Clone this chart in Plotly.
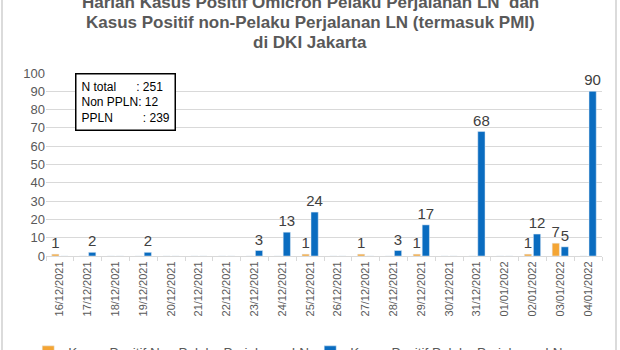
import plotly.graph_objects as go

# Daily Omicron cases in DKI Jakarta, 16 Dec 2021 - 4 Jan 2022
dates = ["16/12/2021", "17/12/2021", "18/12/2021", "19/12/2021", "20/12/2021",
         "21/12/2021", "22/12/2021", "23/12/2021", "24/12/2021", "25/12/2021",
         "26/12/2021", "27/12/2021", "28/12/2021", "29/12/2021", "30/12/2021",
         "31/12/2021", "01/01/2022", "02/01/2022", "03/01/2022", "04/01/2022"]
non_ppln = [1, 0, 0, 0, 0, 0, 0, 0, 0, 1, 0, 1, 0, 1, 0, 0, 0, 1, 7, 0]
ppln = [0, 2, 0, 2, 0, 0, 0, 3, 13, 24, 0, 0, 3, 17, 0, 68, 0, 12, 5, 90]

series_names = ["Kasus Positif Non Pelaku Perjalanan LN",
                "Kasus Positif Pelaku Perjalanan LN"]
title_lines = ["Harian Kasus Positif Omicron Pelaku Perjalanan LN  dan",
               "Kasus Positif non-Pelaku Perjalanan LN (termasuk PMI)",
               "di DKI Jakarta"]
summary_lines = ["N total\u00a0\u00a0\u00a0\u00a0\u00a0\u00a0: 251",
                 "Non PPLN: 12",
                 "PPLN\u00a0\u00a0\u00a0\u00a0\u00a0\u00a0\u00a0\u00a0\u00a0: 239"]

ORANGE = "#F4A534"
BLUE = "#0A6CC0"
GREY = "#595959"
FONT = "Liberation Sans, Arial, sans-serif"

# plot area in pixels: top 73, height 183
PLOT_TOP, PLOT_H = 73, 183


def labels(values):
    return [str(v) if v else "" for v in values]


def py(pixel_y):
    """Convert a pixel row to paper y."""
    return 1 + (PLOT_TOP - pixel_y) / PLOT_H


fig = go.Figure()
for vals, name, color in [(non_ppln, series_names[0], ORANGE),
                          (ppln, series_names[1], BLUE)]:
    fig.add_trace(go.Bar(
        x=dates, y=vals, name=name, marker_color=color,
        text=labels(vals), textposition="outside", cliponaxis=False,
        constraintext="none",
        textfont=dict(size=15, color="#404040", family=FONT),
    ))

fig.update_layout(
    width=620, height=350,
    margin=dict(l=46, r=18, t=PLOT_TOP, b=350 - PLOT_TOP - PLOT_H, autoexpand=False),
    paper_bgcolor="white", plot_bgcolor="white",
    barmode="group", bargap=0.35, bargroupgap=0.2,
    font=dict(family=FONT, color=GREY),
    showlegend=True,
    legend=dict(orientation="h", x=-0.032, xanchor="left", y=-0.525, yanchor="middle",
                font=dict(size=13.5, color=GREY), entrywidth=237,
                entrywidthmode="pixels", traceorder="normal"),
)

fig.update_yaxes(range=[0, 100], dtick=10, showgrid=True, gridcolor="#d9d9d9",
                 gridwidth=1, zeroline=False, showline=False, automargin=False,
                 tickfont=dict(size=13, color=GREY), ticks="", fixedrange=True)
fig.update_xaxes(type="category", tickangle=-90, tickfont=dict(size=11, color=GREY),
                 showline=True, linecolor="#d9d9d9", linewidth=1, automargin=False,
                 ticks="outside", tickson="boundaries", ticklen=4, tickcolor="#d9d9d9",
                 showgrid=False)

# Chart title, one annotation per line
for line, ypix in zip(title_lines, [2, 23, 42.5]):
    fig.add_annotation(
        text="<b>" + line + "</b>", xref="paper", yref="paper",
        x=(310 - 46) / 556, y=py(ypix), xanchor="center", yanchor="middle",
        showarrow=False, font=dict(size=17, color=GREY, family=FONT),
    )

# Summary box
fig.add_annotation(
    text="<br>".join(summary_lines), xref="paper", yref="paper",
    x=0.052, y=1.0, xanchor="left", yanchor="top", showarrow=False,
    align="left", font=dict(size=12, color="black", family=FONT),
    bordercolor="black", borderwidth=1.5, borderpad=5, bgcolor="white",
)

# Light frame around the chart
fig.add_shape(type="rect", xref="paper", yref="paper",
              x0=(2 - 46) / 556, x1=(616 - 46) / 556, y0=-1.2, y1=1.6,
              line=dict(color="#d0d0d0", width=1.5), layer="above")

fig.write_html("out.html")
